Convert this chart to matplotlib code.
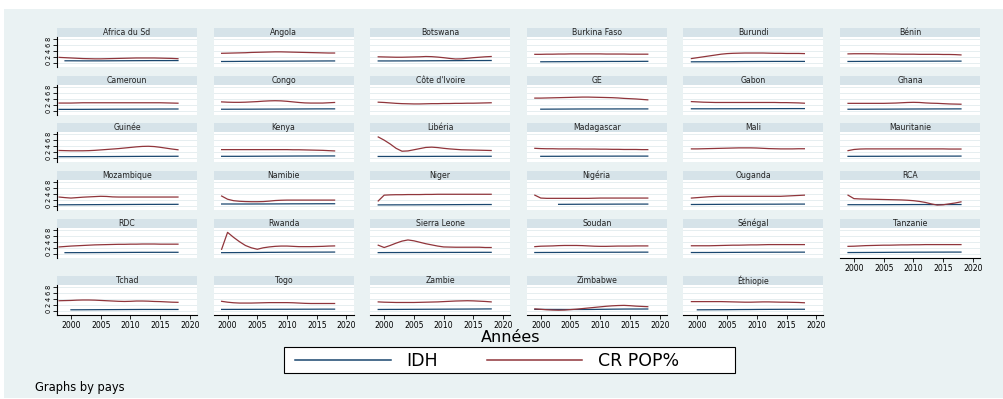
import matplotlib
matplotlib.use("Agg")
import matplotlib.pyplot as plt
from matplotlib.patches import Rectangle
from matplotlib.lines import Line2D
import numpy as np

plt.rcParams['font.family'] = ['DejaVu Sans']

countries = ["Africa du Sd", "Angola", "Botswana", "Burkina Faso", "Burundi", "Bénin",
             "Cameroun", "Congo", "Côte d'Ivoire", "GE", "Gabon", "Ghana",
             "Guinée", "Kenya", "Libéria", "Madagascar", "Mali", "Mauritanie",
             "Mozambique", "Namibie", "Niger", "Nigéria", "Ouganda", "RCA",
             "RDC", "Rwanda", "Sierra Leone", "Soudan", "Sénégal", "Tanzanie",
             "Tchad", "Togo", "Zambie", "Zimbabwe", "Éthiopie"]

# population growth rate (%) per country, first year in cr_pop_start
cr_pop_start = {c: 1999 for c in countries}
cr_pop_start.update({"Africa du Sd": 1998, "Cameroun": 1998, "Guinée": 1998,
                     "Mozambique": 1998, "RDC": 1998, "Tchad": 1998})
cr_pop = {
    "Africa du Sd": [1.8, 1.7, 1.6, 1.5, 1.4, 1.35, 1.3, 1.3, 1.35, 1.4, 1.45, 1.5, 1.55, 1.6, 1.6, 1.6, 1.6, 1.55, 1.5, 1.45, 1.35],
    "Angola": [3.2, 3.25, 3.3, 3.35, 3.4, 3.5, 3.55, 3.6, 3.65, 3.7, 3.7, 3.65, 3.6, 3.55, 3.5, 3.45, 3.4, 3.35, 3.3, 3.3],
    "Botswana": [2.0, 1.95, 1.9, 1.85, 1.85, 1.9, 1.95, 2.0, 2.1, 2.05, 1.9, 1.7, 1.45, 1.25, 1.3, 1.5, 1.7, 1.85, 2.0, 2.1],
    "Burkina Faso": [2.85, 2.85, 2.9, 2.9, 2.95, 2.95, 3.0, 3.0, 3.0, 3.0, 3.0, 3.0, 2.95, 2.95, 2.95, 2.95, 2.9, 2.9, 2.9, 2.9],
    "Burundi": [1.4, 1.7, 2.0, 2.3, 2.6, 2.9, 3.1, 3.2, 3.25, 3.3, 3.3, 3.3, 3.3, 3.25, 3.2, 3.2, 3.15, 3.15, 3.15, 3.1],
    "Bénin": [3.0, 3.05, 3.05, 3.05, 3.05, 3.0, 3.0, 2.95, 2.95, 2.9, 2.9, 2.9, 2.85, 2.85, 2.85, 2.85, 2.8, 2.8, 2.75, 2.65],
    "Cameroun": [2.6, 2.6, 2.6, 2.65, 2.7, 2.7, 2.7, 2.7, 2.7, 2.7, 2.7, 2.7, 2.7, 2.7, 2.7, 2.7, 2.7, 2.7, 2.65, 2.6, 2.55],
    "Congo": [3.0, 2.9, 2.85, 2.85, 2.9, 3.0, 3.1, 3.25, 3.35, 3.4, 3.35, 3.2, 3.0, 2.8, 2.65, 2.6, 2.6, 2.6, 2.7, 2.8],
    "Côte d'Ivoire": [2.9, 2.8, 2.65, 2.5, 2.4, 2.35, 2.3, 2.3, 2.35, 2.4, 2.4, 2.45, 2.45, 2.5, 2.5, 2.55, 2.55, 2.6, 2.65, 2.7],
    "GE": [4.3, 4.3, 4.35, 4.4, 4.45, 4.5, 4.55, 4.6, 4.65, 4.65, 4.6, 4.55, 4.5, 4.45, 4.35, 4.2, 4.1, 4.0, 3.85, 3.7],
    "Gabon": [3.1, 3.0, 2.9, 2.85, 2.8, 2.8, 2.8, 2.8, 2.8, 2.8, 2.8, 2.8, 2.8, 2.8, 2.8, 2.75, 2.75, 2.7, 2.65, 2.55],
    "Ghana": [2.5, 2.5, 2.5, 2.5, 2.5, 2.5, 2.5, 2.55, 2.6, 2.7, 2.8, 2.85, 2.8, 2.65, 2.55, 2.5, 2.4, 2.3, 2.25, 2.2],
    "Guinée": [2.45, 2.4, 2.35, 2.35, 2.35, 2.4, 2.5, 2.65, 2.8, 2.95, 3.1, 3.3, 3.5, 3.7, 3.85, 3.9, 3.8, 3.55, 3.25, 2.95, 2.7],
    "Kenya": [2.75, 2.75, 2.75, 2.75, 2.75, 2.75, 2.75, 2.75, 2.75, 2.75, 2.75, 2.75, 2.7, 2.7, 2.65, 2.6, 2.55, 2.5, 2.4, 2.3],
    "Libéria": [7.1, 6.0, 4.7, 3.2, 2.2, 2.3, 2.7, 3.1, 3.5, 3.6, 3.45, 3.2, 3.0, 2.85, 2.7, 2.65, 2.6, 2.55, 2.5, 2.45],
    "Madagascar": [3.2, 3.1, 3.05, 3.05, 3.0, 3.0, 3.0, 3.0, 2.95, 2.95, 2.95, 2.9, 2.9, 2.85, 2.85, 2.8, 2.8, 2.8, 2.75, 2.75],
    "Mali": [3.0, 3.0, 3.05, 3.1, 3.15, 3.2, 3.25, 3.3, 3.35, 3.35, 3.35, 3.3, 3.2, 3.1, 3.05, 3.0, 3.0, 3.0, 3.05, 3.05],
    "Mauritanie": [2.4, 2.8, 2.95, 3.0, 3.0, 3.0, 3.0, 3.0, 3.0, 3.0, 3.0, 3.0, 3.0, 3.0, 3.0, 3.0, 3.0, 2.95, 2.95, 2.95],
    "Mozambique": [2.95, 2.75, 2.6, 2.75, 2.9, 3.0, 3.1, 3.2, 3.15, 3.0, 2.95, 2.95, 2.95, 2.95, 2.95, 2.95, 2.95, 2.95, 2.95, 2.95, 2.95],
    "Namibie": [3.3, 2.2, 1.7, 1.5, 1.4, 1.35, 1.35, 1.4, 1.55, 1.75, 1.85, 1.9, 1.9, 1.9, 1.9, 1.9, 1.9, 1.9, 1.9, 1.9],
    "Niger": [1.6, 3.6, 3.7, 3.75, 3.75, 3.8, 3.8, 3.8, 3.85, 3.85, 3.9, 3.9, 3.9, 3.9, 3.9, 3.9, 3.9, 3.9, 3.9, 3.9],
    "Nigéria": [3.6, 2.6, 2.5, 2.5, 2.5, 2.5, 2.5, 2.5, 2.5, 2.5, 2.55, 2.6, 2.6, 2.6, 2.6, 2.6, 2.6, 2.6, 2.6, 2.6],
    "Ouganda": [2.6, 2.75, 2.9, 3.05, 3.15, 3.2, 3.2, 3.2, 3.2, 3.2, 3.2, 3.2, 3.2, 3.2, 3.2, 3.2, 3.3, 3.4, 3.5, 3.6],
    "RCA": [3.6, 2.4, 2.3, 2.25, 2.2, 2.15, 2.1, 2.05, 2.0, 1.95, 1.85, 1.7, 1.45, 1.1, 0.6, 0.2, 0.3, 0.6, 0.9, 1.3],
    "RDC": [2.3, 2.45, 2.6, 2.7, 2.8, 2.9, 3.0, 3.05, 3.1, 3.15, 3.2, 3.2, 3.25, 3.25, 3.3, 3.3, 3.3, 3.25, 3.25, 3.25, 3.25],
    "Rwanda": [1.5, 7.3, 5.6, 4.1, 2.8, 2.0, 1.5, 2.0, 2.3, 2.5, 2.6, 2.6, 2.5, 2.4, 2.4, 2.4, 2.45, 2.5, 2.6, 2.65],
    "Sierra Leone": [2.9, 2.1, 2.8, 3.6, 4.3, 4.7, 4.4, 3.9, 3.4, 3.0, 2.6, 2.3, 2.25, 2.2, 2.2, 2.2, 2.2, 2.2, 2.1, 2.1],
    "Soudan": [2.4, 2.55, 2.6, 2.65, 2.75, 2.8, 2.8, 2.8, 2.75, 2.65, 2.55, 2.5, 2.5, 2.55, 2.6, 2.6, 2.6, 2.65, 2.65, 2.65],
    "Sénégal": [2.7, 2.7, 2.7, 2.7, 2.75, 2.8, 2.85, 2.9, 2.9, 2.95, 3.0, 3.0, 3.05, 3.1, 3.1, 3.1, 3.1, 3.1, 3.1, 3.1],
    "Tanzanie": [2.5, 2.55, 2.65, 2.75, 2.8, 2.85, 2.9, 2.9, 2.95, 3.0, 3.0, 3.05, 3.05, 3.1, 3.1, 3.1, 3.1, 3.1, 3.1, 3.1],
    "Tchad": [3.4, 3.45, 3.5, 3.6, 3.65, 3.65, 3.6, 3.5, 3.4, 3.3, 3.2, 3.15, 3.2, 3.3, 3.3, 3.25, 3.15, 3.1, 3.0, 2.9, 2.85],
    "Togo": [3.2, 2.9, 2.7, 2.6, 2.6, 2.6, 2.65, 2.7, 2.75, 2.75, 2.75, 2.75, 2.7, 2.6, 2.5, 2.45, 2.45, 2.45, 2.45, 2.45],
    "Zambie": [3.0, 2.9, 2.85, 2.8, 2.8, 2.8, 2.8, 2.85, 2.9, 2.95, 3.0, 3.1, 3.2, 3.3, 3.35, 3.4, 3.35, 3.25, 3.15, 3.0],
    "Zimbabwe": [0.6, 0.45, 0.3, 0.2, 0.15, 0.2, 0.35, 0.5, 0.7, 0.9, 1.1, 1.3, 1.5, 1.65, 1.75, 1.8, 1.7, 1.55, 1.45, 1.35],
    "Éthiopie": [3.1, 3.1, 3.1, 3.1, 3.1, 3.1, 3.05, 3.0, 2.95, 2.9, 2.9, 2.95, 3.0, 3.0, 2.95, 2.9, 2.9, 2.85, 2.8, 2.7],
}

# human development index per country, first year in idh_start
idh_start = {c: 1999 for c in countries}
idh_start.update({"Cameroun": 1998, "Guinée": 1998, "Mozambique": 1998,
                  "Burkina Faso": 2000, "GE": 2000, "Madagascar": 2000,
                  "Nigéria": 2003, "Tchad": 2000, "Éthiopie": 2000})
idh = {
    "Africa du Sd": [0.63, 0.63, 0.62, 0.61, 0.61, 0.61, 0.61, 0.62, 0.63, 0.64, 0.65, 0.66, 0.67, 0.68, 0.69, 0.70, 0.70, 0.70, 0.71, 0.71],
    "Angola": [0.39, 0.40, 0.41, 0.43, 0.44, 0.45, 0.46, 0.47, 0.48, 0.49, 0.50, 0.51, 0.52, 0.53, 0.54, 0.55, 0.56, 0.57, 0.58, 0.58],
    "Botswana": [0.58, 0.58, 0.58, 0.59, 0.59, 0.60, 0.61, 0.62, 0.63, 0.64, 0.65, 0.66, 0.67, 0.68, 0.69, 0.70, 0.71, 0.71, 0.72, 0.73],
    "Burkina Faso": [0.29, 0.30, 0.31, 0.32, 0.33, 0.34, 0.35, 0.36, 0.37, 0.38, 0.39, 0.40, 0.41, 0.41, 0.42, 0.42, 0.43, 0.44, 0.45],
    "Burundi": [0.28, 0.29, 0.29, 0.30, 0.30, 0.31, 0.32, 0.34, 0.36, 0.38, 0.39, 0.40, 0.41, 0.41, 0.42, 0.42, 0.42, 0.42, 0.42, 0.42],
    "Bénin": [0.40, 0.41, 0.42, 0.42, 0.43, 0.44, 0.45, 0.46, 0.47, 0.48, 0.48, 0.49, 0.49, 0.50, 0.50, 0.51, 0.51, 0.52, 0.52, 0.52],
    "Cameroun": [0.43, 0.43, 0.43, 0.44, 0.44, 0.45, 0.46, 0.47, 0.48, 0.49, 0.50, 0.50, 0.51, 0.52, 0.52, 0.53, 0.54, 0.55, 0.55, 0.56, 0.56],
    "Congo": [0.48, 0.48, 0.49, 0.49, 0.50, 0.50, 0.51, 0.52, 0.53, 0.53, 0.54, 0.55, 0.56, 0.57, 0.58, 0.59, 0.60, 0.60, 0.61, 0.61],
    "GE": [0.50, 0.51, 0.52, 0.53, 0.54, 0.55, 0.56, 0.57, 0.57, 0.58, 0.58, 0.58, 0.58, 0.59, 0.59, 0.59, 0.59, 0.59, 0.59],
    "Gabon": [0.63, 0.63, 0.63, 0.63, 0.63, 0.64, 0.64, 0.64, 0.65, 0.65, 0.66, 0.66, 0.67, 0.67, 0.68, 0.69, 0.69, 0.70, 0.70, 0.70],
    "Ghana": [0.48, 0.48, 0.49, 0.49, 0.50, 0.51, 0.51, 0.52, 0.53, 0.54, 0.55, 0.56, 0.57, 0.57, 0.58, 0.59, 0.59, 0.59, 0.60, 0.60],
    "Guinée": [0.33, 0.33, 0.33, 0.34, 0.34, 0.35, 0.35, 0.36, 0.37, 0.38, 0.39, 0.40, 0.41, 0.42, 0.43, 0.44, 0.44, 0.45, 0.45, 0.46, 0.47],
    "Kenya": [0.45, 0.45, 0.45, 0.45, 0.46, 0.47, 0.48, 0.49, 0.50, 0.51, 0.52, 0.53, 0.54, 0.55, 0.55, 0.56, 0.57, 0.57, 0.58, 0.58],
    "Libéria": [0.40, 0.40, 0.40, 0.40, 0.41, 0.41, 0.41, 0.42, 0.42, 0.43, 0.44, 0.44, 0.45, 0.45, 0.46, 0.46, 0.46, 0.47, 0.47, 0.47],
    "Madagascar": [0.45, 0.45, 0.46, 0.46, 0.47, 0.48, 0.49, 0.50, 0.50, 0.51, 0.51, 0.51, 0.51, 0.52, 0.52, 0.52, 0.52, 0.52, 0.52],
    "Mauritanie": [0.44, 0.44, 0.45, 0.45, 0.46, 0.46, 0.47, 0.47, 0.48, 0.48, 0.49, 0.49, 0.50, 0.50, 0.51, 0.51, 0.52, 0.52, 0.52, 0.53],
    "Mozambique": [0.28, 0.29, 0.30, 0.31, 0.32, 0.33, 0.34, 0.35, 0.36, 0.37, 0.38, 0.39, 0.40, 0.41, 0.42, 0.43, 0.43, 0.44, 0.44, 0.44, 0.45],
    "Namibie": [0.56, 0.56, 0.56, 0.56, 0.56, 0.56, 0.57, 0.57, 0.58, 0.59, 0.60, 0.61, 0.62, 0.62, 0.63, 0.63, 0.64, 0.64, 0.65, 0.65],
    "Niger": [0.25, 0.26, 0.26, 0.27, 0.27, 0.28, 0.28, 0.29, 0.30, 0.31, 0.31, 0.32, 0.33, 0.34, 0.35, 0.36, 0.37, 0.37, 0.38, 0.38],
    "Nigéria": [0.44, 0.45, 0.46, 0.47, 0.48, 0.49, 0.49, 0.50, 0.50, 0.51, 0.52, 0.52, 0.53, 0.53, 0.53, 0.53],
    "Ouganda": [0.39, 0.40, 0.41, 0.42, 0.43, 0.44, 0.45, 0.46, 0.47, 0.47, 0.48, 0.49, 0.49, 0.50, 0.50, 0.51, 0.52, 0.53, 0.53, 0.53],
    "RCA": [0.32, 0.32, 0.32, 0.32, 0.32, 0.33, 0.33, 0.34, 0.35, 0.35, 0.36, 0.37, 0.37, 0.38, 0.36, 0.36, 0.37, 0.37, 0.38, 0.38],
    "RDC": [0.33, 0.33, 0.34, 0.34, 0.35, 0.36, 0.37, 0.38, 0.39, 0.40, 0.41, 0.42, 0.43, 0.44, 0.44, 0.45, 0.45, 0.46, 0.46, 0.46],
    "Rwanda": [0.33, 0.34, 0.35, 0.36, 0.37, 0.38, 0.40, 0.42, 0.44, 0.45, 0.47, 0.48, 0.49, 0.50, 0.50, 0.51, 0.52, 0.52, 0.53, 0.54],
    "Sierra Leone": [0.35, 0.36, 0.37, 0.37, 0.38, 0.38, 0.39, 0.39, 0.40, 0.40, 0.41, 0.41, 0.42, 0.42, 0.43, 0.43, 0.43, 0.44, 0.45, 0.45],
    "Soudan": [0.38, 0.39, 0.40, 0.40, 0.41, 0.42, 0.43, 0.44, 0.45, 0.45, 0.46, 0.47, 0.47, 0.48, 0.48, 0.49, 0.50, 0.50, 0.51, 0.51],
    "Sénégal": [0.38, 0.38, 0.39, 0.39, 0.40, 0.41, 0.42, 0.43, 0.44, 0.45, 0.46, 0.47, 0.48, 0.48, 0.49, 0.49, 0.50, 0.50, 0.51, 0.51],
    "Tanzanie": [0.37, 0.38, 0.39, 0.40, 0.41, 0.42, 0.43, 0.45, 0.46, 0.47, 0.48, 0.49, 0.50, 0.50, 0.51, 0.52, 0.52, 0.53, 0.53, 0.53],
    "Tchad": [0.29, 0.29, 0.30, 0.31, 0.32, 0.33, 0.34, 0.35, 0.36, 0.37, 0.38, 0.39, 0.40, 0.40, 0.40, 0.40, 0.40, 0.40, 0.40],
    "Togo": [0.42, 0.42, 0.43, 0.43, 0.44, 0.44, 0.45, 0.45, 0.46, 0.46, 0.47, 0.47, 0.48, 0.48, 0.49, 0.49, 0.50, 0.51, 0.51, 0.51],
    "Zambie": [0.40, 0.41, 0.42, 0.42, 0.43, 0.44, 0.45, 0.46, 0.47, 0.48, 0.49, 0.50, 0.51, 0.52, 0.53, 0.54, 0.55, 0.56, 0.58, 0.59],
    "Zimbabwe": [0.43, 0.43, 0.42, 0.41, 0.41, 0.40, 0.40, 0.40, 0.40, 0.41, 0.42, 0.45, 0.47, 0.50, 0.52, 0.54, 0.55, 0.55, 0.55, 0.56],
    "Éthiopie": [0.28, 0.29, 0.30, 0.31, 0.32, 0.33, 0.35, 0.37, 0.38, 0.39, 0.41, 0.42, 0.43, 0.44, 0.45, 0.46, 0.46, 0.47, 0.47],
}

x_ticks = [2000, 2005, 2010, 2015, 2020]
y_ticks = [0, 2, 4, 6, 8]

# colours
BG = "#eaf2f3"
HEAD = "#d6e3e9"
GRID = "#e6eef0"
C_IDH = "#1a476f"
C_POP = "#90353b"

W, H = 1004, 399
fig = plt.figure(figsize=(W / 100, H / 100), dpi=100, facecolor="white")

def fx(x):
    return x / W

def fy(y):
    return 1 - y / H

# outer graph region
fig.patches.append(Rectangle((fx(4), fy(398)), fx(1004) - fx(4), fy(9) - fy(398),
                             transform=fig.transFigure, facecolor=BG, edgecolor="none", zorder=-10))

ncols = 6
col_left = [57 + 156.6 * c for c in range(ncols)]
row_head_top = [28, 76, 123, 171, 219, 276]
panel_w, head_h, plot_h = 140, 9, 30
xlim = (1997.65, 2021.2)
ylim = (-1.5, 8.8)

for i, name in enumerate(countries):
    r, c = divmod(i, ncols)
    left = col_left[c]
    top = row_head_top[r]
    # header strip
    fig.patches.append(Rectangle((fx(left), fy(top + head_h)), panel_w / W, head_h / H,
                                 transform=fig.transFigure, facecolor=HEAD,
                                 edgecolor="none", zorder=1))
    fig.text(fx(left + panel_w / 2), fy(top + head_h / 2 + 0.2), name, ha="center", va="center",
             fontsize=5.6, color="#222222")
    ax = fig.add_axes([fx(left), fy(top + head_h + plot_h), panel_w / W, plot_h / H])
    ax.set_zorder(2)
    ax.set_facecolor("white")
    ax.set_xlim(*xlim)
    ax.set_ylim(*ylim)
    for yv in y_ticks:
        ax.axhline(yv, color=GRID, lw=0.7, zorder=0)
    if name in idh:
        y0 = idh_start[name]
        yrs = np.arange(y0, y0 + len(idh[name]))
        ax.plot(yrs, idh[name], color=C_IDH, lw=0.9, zorder=3)
    p0 = cr_pop_start[name]
    yrs = np.arange(p0, p0 + len(cr_pop[name]))
    ax.plot(yrs, cr_pop[name], color=C_POP, lw=0.9, zorder=3)

    for s in ax.spines.values():
        s.set_visible(False)
    ax.set_xticks(x_ticks)
    ax.set_yticks(y_ticks)
    show_x = (r == 5) or (name == "Tanzanie")
    show_y = (c == 0)
    if show_y:
        ax.spines["left"].set_visible(True)
        ax.spines["left"].set_linewidth(0.8)
        ax.tick_params(axis="y", length=3, width=0.6, pad=1, labelsize=4.8)
        for lab in ax.get_yticklabels():
            lab.set_rotation(90)
            lab.set_va("center")
    else:
        ax.tick_params(axis="y", left=False, labelleft=False)
    if show_x:
        ax.spines["bottom"].set_visible(True)
        ax.spines["bottom"].set_linewidth(0.8)
        ax.tick_params(axis="x", length=3, width=0.6, pad=1.2, labelsize=5.6)
    else:
        ax.tick_params(axis="x", bottom=False, labelbottom=False)

# axis title
fig.text(fx(511), fy(337.5), "Années", ha="center", va="center", fontsize=11.5, color="black")

# legend box
fig.patches.append(Rectangle((fx(284), fy(373)), (735 - 284) / W, 26 / H,
                             transform=fig.transFigure, facecolor="white",
                             edgecolor="black", lw=0.8, zorder=2))
fig.lines.append(Line2D([fx(295), fx(391)], [fy(360), fy(360)], transform=fig.transFigure,
                        color=C_IDH, lw=1.1, zorder=3))
fig.text(fx(406), fy(360.5), "IDH", ha="left", va="center", fontsize=12.5, zorder=3)
fig.lines.append(Line2D([fx(487), fx(582)], [fy(360), fy(360)], transform=fig.transFigure,
                        color=C_POP, lw=1.1, zorder=3))
fig.text(fx(598), fy(360.5), "CR POP%", ha="left", va="center", fontsize=12.5, zorder=3)

fig.text(fx(35), fy(387), "Graphs by pays", ha="left", va="center", fontsize=8.3, color="black")

fig.savefig("out.png", dpi=100, facecolor="white")
